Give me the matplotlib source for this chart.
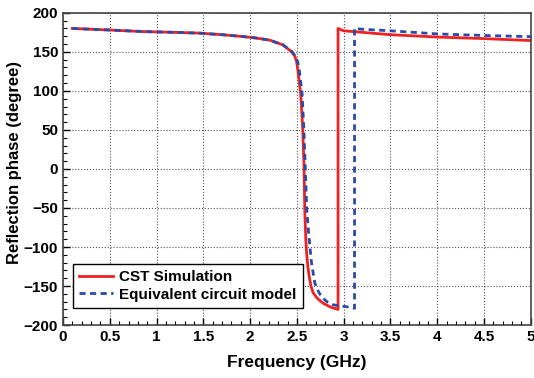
import numpy as np
from matplotlib import pyplot as plt
from matplotlib.ticker import MultipleLocator

plt.rcParams['font.family'] = ['Liberation Sans', 'DejaVu Sans']
plt.rcParams['font.weight'] = 'bold'

# CST simulation
cst_f = [0.1, 0.5, 0.86, 1.2, 1.46, 1.7, 1.89, 2.05, 2.21, 2.35, 2.44, 2.475, 2.497, 2.514,
         2.54, 2.561, 2.575, 2.585, 2.595, 2.604, 2.618, 2.632, 2.65, 2.675, 2.72, 2.78, 2.86,
         2.94, 2.94, 3.0, 3.2, 3.5, 4.0, 4.5, 5.0]
cst_phase = [180, 178, 176, 175, 174, 172, 170, 168, 165, 159, 150.5, 145, 137.5, 123,
             97, 55, 7, -57, -90, -108, -126, -138, -150, -159, -166, -172, -177,
             -180, 180, 177, 175, 172, 169, 167, 164.5]

# equivalent circuit model
ecm_f = [0.1, 0.5, 0.86, 1.2, 1.46, 1.7, 1.89, 2.05, 2.21, 2.35, 2.445, 2.48, 2.508, 2.525,
         2.555, 2.575, 2.59, 2.604, 2.618, 2.632, 2.657, 2.692, 2.73, 2.764, 2.82, 2.888,
         2.96, 3.03, 3.116, 3.116, 3.2, 3.5, 4.0, 4.5, 5.0]
ecm_phase = [180, 178, 176, 175, 174, 172, 170, 168, 165, 159, 150.5, 145, 137.5, 127,
             97, 50, 0, -48, -72, -91, -121, -146.5, -157, -164, -170, -174,
             -175.5, -176.5, -178.5, 180, 179, 177, 173, 171, 169.5]

fig = plt.figure(figsize=(5.34, 3.78), dpi=100)
ax = fig.add_axes([0.118, 0.140, 0.876, 0.826])

ax.plot(cst_f, cst_phase, color='#ee2222', lw=2, label='CST Simulation')
ax.plot(ecm_f, ecm_phase, color='#2b4aa8', lw=2, ls=(0, (2.2, 1.6)), label='Equivalent circuit model')

ax.set_xlim(0, 5)
ax.set_ylim(-200, 200)
ax.xaxis.set_minor_locator(MultipleLocator(0.1))
ax.yaxis.set_major_locator(MultipleLocator(50))
ax.yaxis.set_minor_locator(MultipleLocator(10))
ax.set_xticks(np.arange(0, 5.01, 0.5))
ax.set_xticklabels(['0', '0.5', '1', '1.5', '2', '2.5', '3', '3.5', '4', '4.5', '5'])
ax.tick_params(which='both', direction='in', labelsize=11)
ax.tick_params(which='major', length=5, width=1)
ax.tick_params(which='minor', length=3, width=0.8)
ax.grid(True, which='major', ls=':', color='#555555', lw=0.8)
for s in ax.spines.values():
    s.set_color('#444444')
    s.set_linewidth(1.2)

ax.set_xlabel('Frequency (GHz)', fontsize=12.5, fontweight='bold', labelpad=8)
ax.set_ylabel('Reflection phase (degree)', fontsize=12, fontweight='bold')
ax.yaxis.set_label_coords(-0.088, 0.522)

leg = ax.legend(loc='lower left', bbox_to_anchor=(0.022, 0.055), fontsize=11,
                fancybox=False, framealpha=1, edgecolor='black', borderpad=0.4,
                handlelength=2.2, handletextpad=0.4, labelspacing=0.25,
                borderaxespad=0)
leg.get_frame().set_linewidth(1)

plt.savefig('out.png', dpi=100)
